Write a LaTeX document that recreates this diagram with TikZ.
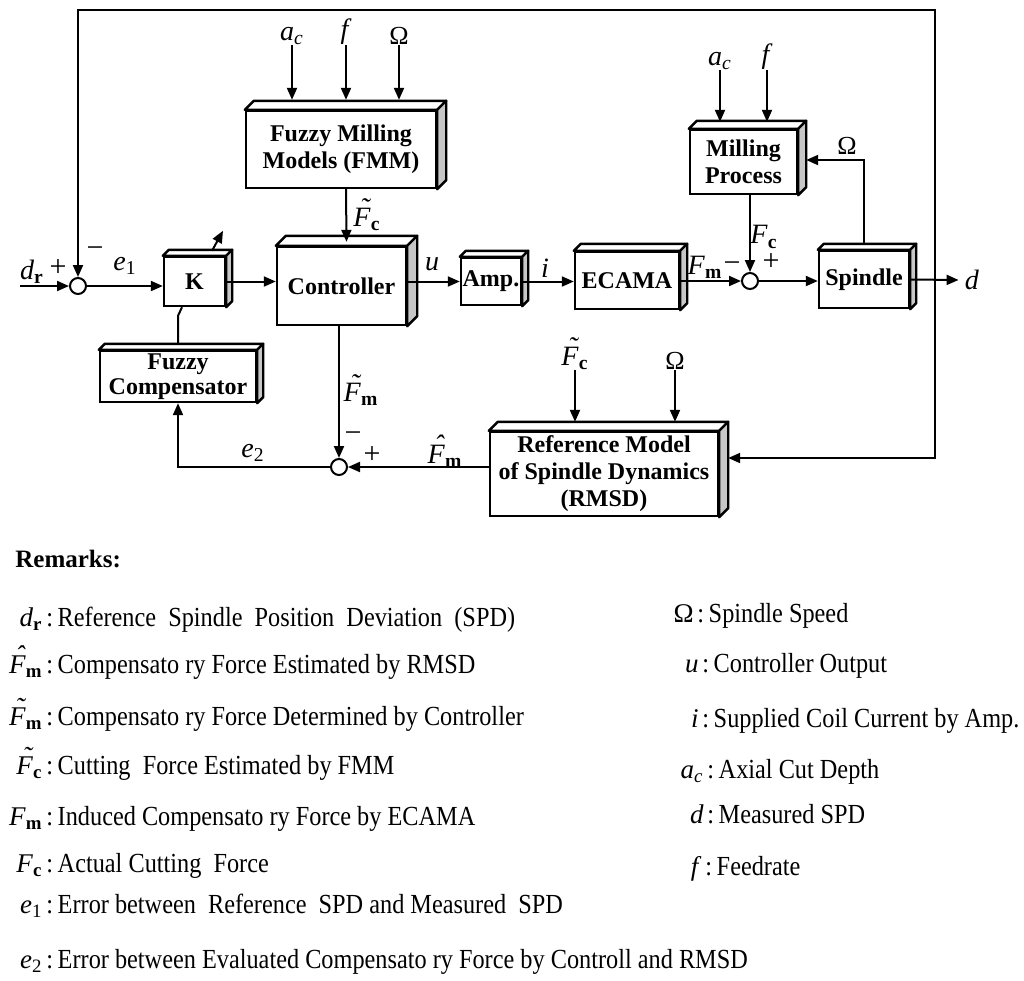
\documentclass[tikz,border=0pt]{standalone}
\usepackage{fontspec}
\setmainfont{Liberation Serif}
\newfontfamily\remfont[FakeStretch=0.88]{Liberation Serif}
\usetikzlibrary{arrows.meta}

% accents and subscripts for the signal names
\newcommand\tld[1]{\leavevmode\rlap{\hspace{0.24em}\raisebox{0.3em}{\char"02DC}}#1}
\newcommand\hatsym[1]{\leavevmode\rlap{\hspace{0.24em}\raisebox{0.32em}{\char"02C6}}#1}
\newcommand\vsub[2]{\textit{#1}\textsubscript{\textbf{#2}}}

% front face of a block is the node, top and side faces are added
\newcommand\solid[2]{%
  \draw[line width=1.2pt, line join=round, fill=white] (#1.north west) -- ++(#2,-#2)
    -- ([shift={(#2,-#2)}]#1.north east) -- (#1.north east) -- cycle;
  \draw[line width=1.2pt, line join=round, fill=black!22] (#1.north east) -- ++(#2,-#2)
    -- ([shift={(#2,-#2)}]#1.south east) -- (#1.south east) -- cycle;
}

\tikzset{
  blk/.style={draw, line width=1.2pt, fill=white, inner sep=0pt, align=center,
    font=\fontsize{12}{13.5}\selectfont\bfseries},
  sumpt/.style={draw, circle, line width=1pt, fill=white, minimum size=8pt, inner sep=0pt},
  sig/.style={line width=1pt, -{Triangle[length=6pt,width=5pt]}},
  wire/.style={line width=1pt},
  lbl/.style={inner sep=0pt, font=\fontsize{14}{14}\selectfont},
  omg/.style={inner sep=0pt, font=\fontsize{13}{13}\selectfont},
  sgn/.style={inner sep=0pt, font=\fontsize{15}{15}\selectfont},
  remhead/.style={inner sep=0pt, anchor=base west, font=\fontsize{12.5}{13}\selectfont\bfseries},
  remsym/.style={inner sep=0pt, anchor=base east, font=\fontsize{13.5}{14}\selectfont},
  remtxt/.style={inner sep=0pt, anchor=base west, font=\fontsize{13.8}{14}\remfont},
}

\begin{document}
\begin{tikzpicture}[x=0.5pt, y=-0.5pt]
\useasboundingbox (0,0) rectangle (1024,981);

% blocks
\node[blk, minimum width=30.5pt, minimum height=24.5pt] (K) at (194.5,281.5) {K};
\node[blk, minimum width=95pt, minimum height=38.5pt] (fmm) at (341,149.5) {Fuzzy Milling\\Models (FMM)};
\node[blk, minimum width=64.5pt, minimum height=39pt] (ctrl) at (341.5,286) {Controller};
\node[blk, minimum width=30pt, minimum height=23.5pt] (amp) at (491,281.5) {Amp.};
\node[blk, minimum width=52pt, minimum height=28.5pt] (ecama) at (627,280.5) {ECAMA};
\node[blk, minimum width=53.5pt, minimum height=32pt] (mill) at (743.5,162) {Milling\\Process};
\node[blk, minimum width=45pt, minimum height=28.5pt] (spin) at (864,279.5) {Spindle};
\node[blk, minimum width=78pt, minimum height=25.5pt, font=\fontsize{12}{12.5}\selectfont\bfseries] (fcomp) at (178,376.5) {Fuzzy\\Compensator};
\node[blk, minimum width=114pt, minimum height=42pt] (rmsd) at (604,474) {Reference Model\\of Spindle Dynamics\\(RMSD)};
\solid{K}{6}
\solid{fmm}{9}
\solid{ctrl}{10}
\solid{amp}{6}
\solid{ecama}{7}
\solid{mill}{8}
\solid{spin}{6}
\solid{fcomp}{6}
\solid{rmsd}{9}

% summing points
\node[sumpt] (s1) at (78,286) {};
\node[sumpt] (s2) at (750,281) {};
\node[sumpt] (s3) at (339,467) {};

% outside inputs
\node[lbl, anchor=south] (ac1) at (292,45) {\textit{a}\textsubscript{\textit{c}}};
\node[lbl, anchor=south] (f1) at (346,45) {\textit{f}};
\node[omg, anchor=south] (om1) at (399,45) {Ω};
\node[lbl, anchor=south] (ac2) at (720,70) {\textit{a}\textsubscript{\textit{c}}};
\node[lbl, anchor=south] (f2) at (767,70) {\textit{f}};
\node[lbl, anchor=south] (fcr) at (575,370) {\vsub{\tld{F}}{c}};
\node[omg, anchor=south] (om3) at (675,370) {Ω};
\draw[sig, shorten >=5pt] (ac1.south) -- (ac1.south |- fmm.north);
\draw[sig, shorten >=5pt] (f1.south) -- (f1.south |- fmm.north);
\draw[sig, shorten >=5pt] (om1.south) -- (om1.south |- fmm.north);
\draw[sig, shorten >=3.5pt] (ac2.south) -- (ac2.south |- mill.north);
\draw[sig, shorten >=3.5pt] (f2.south) -- (f2.south |- mill.north);
\draw[sig, shorten >=4.5pt] (fcr.south) -- (fcr.south |- rmsd.north);
\draw[sig, shorten >=4.5pt] (om3.south) -- (om3.south |- rmsd.north);

% signal labels
\node[lbl] (dr) at (32,272) {\vsub{d}{r}};
\node[sgn] (pl1) at (58,268) {+};
\node[sgn] (mi1) at (95,252) {\char"2212};
\node[lbl] (e1) at (125,266) {\textit{e}\textsubscript{1}};
\node[lbl] (fct) at (367,215) {\vsub{\tld{F}}{c}};
\node[lbl] (ulab) at (432,264) {\textit{u}};
\node[lbl] (ilab) at (545,268) {\textit{i}};
\node[lbl] (fmlab) at (705,267) {\vsub{F}{m}};
\node[sgn] (mi2) at (732,267) {\char"2212};
\node[lbl] (fclab) at (764,237) {\vsub{F}{c}};
\node[sgn] (pl2) at (771,262) {+};
\node[omg] (om2) at (847,146) {Ω};
\node[lbl] (dlab) at (972,280) {\textit{d}};
\node[lbl] (fmt) at (361,390) {\vsub{\tld{F}}{m}};
\node[sgn] (mi3) at (353,437) {\char"2212};
\node[sgn] (pl3) at (372,455) {+};
\node[lbl] (e2) at (253,453) {\textit{e}\textsubscript{2}};
\node[lbl] (fmh) at (445,451) {\vsub{\hatsym{F}}{m}};

% forward path
\coordinate (din) at (20,286);
\draw[sig] (din) -- (s1.west);
\draw[sig] (s1.east) -- (s1.east -| K.west);
\draw[sig] (K.east) -- (K.east -| ctrl.west);
\draw[sig] (ctrl.east |- amp.west) -- (amp.west);
\draw[sig] (amp.east) -- (amp.east -| ecama.west);
\draw[sig] (ecama.east |- s2) -- (s2.west);
\draw[sig] (s2.east) -- (s2.east -| spin.west);
\draw[sig] (spin.east) -- ([xshift=-3pt]dlab.west);
\draw[sig] (s2 |- mill.south) -- (s2.north);
\draw[sig] ([xshift=2.5pt]fmm.south) -- ([shift={(2.5pt,2pt)}]ctrl.north);
\draw[sig] ([yshift=3pt]spin.north) |- ([shift={(4pt,1pt)}]mill.east);

% feedback paths
\coordinate (tap) at (935,281);
\coordinate (tr) at (935,10);
\coordinate (tl) at (78,10);
\draw[sig] (tap) -- (tr) -- (tl) -- (s1.north);
\draw[sig] (tap) |- ([shift={(4.5pt,8pt)}]rmsd.east);
\draw[sig] (s3 |- ctrl.south) -- (s3.north);
\draw[sig] (rmsd.west |- s3) -- (s3.east);
\draw[sig] (s3.west) -| (fcomp.south);
\draw[wire] ([yshift=3pt]fcomp.north) -- ++(0,-28) -- ([xshift=-6.25pt]K.south);
\draw[sig] ([shift={(8.75pt,2.5pt)}]K.north) -- ++(11,-20);

% remarks
\node[remhead] (rem) at (15,567) {Remarks:};
\foreach \yy/\sy/\tx [count=\n] in {
    626/{\vsub{d}{r}}/{Reference\ \ Spindle\ \ Position\ \ Deviation\ \ (SPD)},
    673/{\vsub{\hatsym{F}}{m}}/{Compensato ry Force Estimated by RMSD},
    725/{\vsub{\tld{F}}{m}}/{Compensato ry Force Determined by Controller},
    774/{\vsub{\tld{F}}{c}}/{Cutting\ \ Force Estimated by FMM},
    825/{\vsub{F}{m}}/{Induced Compensato ry Force by ECAMA},
    872/{\vsub{F}{c}}/{Actual Cutting\ \ Force},
    913/{\textit{e}\textsubscript{1}}/{Error between\ \ Reference\ \ SPD and Measured\ \ SPD},
    968/{\textit{e}\textsubscript{2}}/{Error between Evaluated Compensato ry Force by Controll and RMSD}} {
  \node[remsym] (ls\n) at (43,\yy) {\sy};
  \node[remtxt] (lt\n) at (46,\yy) {:\,\tx};
}
\foreach \yy/\xx/\sy/\tx [count=\n] in {
    622/697/{Ω}/{Spindle Speed},
    672/702/{\textit{u}}/{Controller Output},
    727/702/{\textit{i}}/{Supplied Coil Current by Amp.},
    778/707/{\textit{a}\textsubscript{\textit{c}}}/{Axial Cut Depth},
    823/707/{\textit{d}}/{Measured SPD},
    875/705/{\textit{f}}/{Feedrate}} {
  \node[remsym] (rs\n) at (\xx-3,\yy) {\sy};
  \node[remtxt] (rt\n) at (\xx,\yy) {:\,\tx};
}
\end{tikzpicture}
\end{document}
